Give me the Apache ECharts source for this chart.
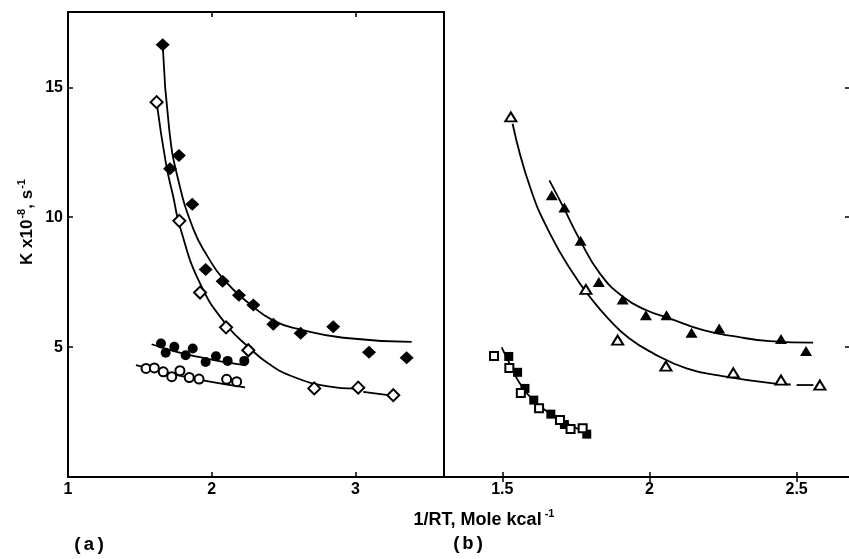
<!DOCTYPE html>
<html><head><meta charset="utf-8">
<script src="https://cdn.jsdelivr.net/npm/echarts@6/dist/echarts.min.js"></script>
<style>html,body{margin:0;padding:0;background:#fff}#c{width:849px;height:559px}</style>
</head><body><div id="c"></div>
<script>
// ---- tick labels ----
const yTicks = [5, 10, 15];
const xTicksA = [1, 2, 3];
const xTicksB = [1.5, 2, 2.5];

// ---- panel (a) ----
const filledDiamonds = [[1.659,16.64],[1.710,11.87],[1.772,12.38],[1.865,10.50],[1.958,7.99],[2.076,7.54],[2.190,7.00],[2.290,6.62],[2.429,5.88],[2.619,5.53],[2.846,5.78],[3.095,4.80],[3.357,4.59]];
const filledDiamondCurve = [[1.659,16.65],[1.705,13.35],[1.768,11.42],[1.872,9.55],[1.965,8.55],[2.081,7.62],[2.267,6.65],[2.430,6.02],[2.614,5.68],[2.916,5.36],[3.392,5.20]];
const openDiamonds = [[1.617,14.43],[1.775,9.86],[1.919,7.10],[2.100,5.76],[2.255,4.88],[2.714,3.41],[3.020,3.44],[3.264,3.15]];
const openDiamondCurve = [[1.617,14.43],[1.682,12.06],[1.733,10.78],[1.779,9.63],[1.919,7.45],[2.104,5.85],[2.267,4.95],[2.400,4.35],[2.568,3.86],[2.800,3.50],[3.000,3.40]];
const openDiamondDash = [[3.055,3.28],[3.229,3.15]];
const filledCircles = [[1.647,5.14],[1.680,4.78],[1.740,5.01],[1.819,4.69],[1.868,4.95],[1.958,4.43],[2.030,4.65],[2.111,4.47],[2.227,4.47]];
const filledCircleLine = [[1.582,5.11],[1.750,4.83],[1.919,4.61],[2.080,4.43],[2.240,4.30]];
const openCircles = [[1.543,4.18],[1.601,4.20],[1.663,4.05],[1.722,3.86],[1.779,4.09],[1.844,3.83],[1.912,3.77],[2.104,3.76],[2.174,3.67]];
const openCircleLine = [[1.473,4.31],[1.700,4.00],[1.919,3.74],[2.232,3.45]];

// ---- panel (b) ----
const openTriangles = [[1.529,13.86],[1.784,7.22],[1.892,5.27],[2.056,4.27],[2.285,4.01],[2.447,3.73],[2.579,3.54]];
const openTriangleCurve = [[1.535,13.60],[1.594,11.17],[1.662,9.37],[1.741,7.83],[1.798,6.93],[1.860,6.10],[1.930,5.35],[2.013,4.76],[2.126,4.18],[2.240,3.90],[2.420,3.60],[2.480,3.56]];
const openTriangleDash = [[2.500,3.54],[2.557,3.54]];
const filledTriangles = [[1.668,10.85],[1.711,10.37],[1.766,9.09],[1.828,7.51],[1.909,6.83],[1.988,6.23],[2.058,6.23],[2.143,5.55],[2.237,5.72],[2.447,5.31],[2.532,4.85]];
const filledTriangleCurve = [[1.660,11.42],[1.707,10.40],[1.764,9.12],[1.832,7.83],[1.911,6.93],[1.990,6.42],[2.070,6.10],[2.183,5.65],[2.296,5.40],[2.409,5.23],[2.556,5.17]];
const openSquares = [[1.472,4.66],[1.524,4.20],[1.563,3.23],[1.625,2.65],[1.696,2.19],[1.732,1.85],[1.773,1.88]];
const filledSquares = [[1.522,4.64],[1.552,4.03],[1.577,3.41],[1.607,2.96],[1.665,2.42],[1.711,2.02],[1.787,1.65]];
const squareCurve = [[1.498,4.99],[1.530,4.25],[1.560,3.60],[1.617,2.83],[1.673,2.38],[1.730,2.00],[1.787,1.70]];

const FONT = 'Liberation Sans';
const lbl = {fontFamily: FONT, fontWeight: 'bold', fontSize: 16, color: '#000'};
const axLine = {show: true, lineStyle: {color: '#000', width: 2}};

function xAx(grid, pos, min, max, ticks, labels) {
  return {
    type: 'value', gridIndex: grid, position: pos, min: min, max: max,
    axisLine: axLine, splitLine: {show: false},
    axisTick: {show: true, inside: true, length: 5, lineStyle: {color: '#000', width: 1.5}, customValues: ticks},
    axisLabel: labels ? Object.assign({show: true, margin: 5, customValues: ticks, formatter: v => String(v)}, lbl) : {show: false}
  };
}

const lineS = (data, xi, yi) => ({type: 'line', data: data, xAxisIndex: xi, yAxisIndex: yi, showSymbol: false, smooth: 0.5, lineStyle: {color: '#000', width: 1.8}, z: 2, silent: true});
const scat = (data, xi, yi, sym, size, filled) => ({type: 'scatter', data: data, xAxisIndex: xi, yAxisIndex: yi, symbol: sym, symbolSize: size,
  itemStyle: filled ? {color: '#000', opacity: 1} : {color: '#fff', borderColor: '#000', borderWidth: 2, opacity: 1}, z: 3});

const chart = echarts.init(document.getElementById('c'));
chart.setOption({
  animation: false,
  backgroundColor: '#fff',
  grid: [
    {left: 68, top: 12, width: 376, height: 465},
    {left: 444, top: 12, width: 405, height: 465}
  ],
  xAxis: [
    xAx(0, 'bottom', 1, 3.617, xTicksA, true),
    xAx(0, 'top', 1, 3.617, xTicksA.slice(1), false),
    xAx(1, 'bottom', 1.302, 2.678, xTicksB, true),
    xAx(1, 'top', 1.302, 2.678, xTicksB, false)
  ],
  yAxis: [
    {type: 'value', gridIndex: 0, position: 'left', min: 0, max: 17.9, axisLine: axLine, splitLine: {show: false},
     axisTick: {show: true, inside: true, length: 5, lineStyle: {color: '#000', width: 1.5}, customValues: yTicks},
     axisLabel: Object.assign({show: true, margin: 5, customValues: yTicks}, lbl)},
    {type: 'value', gridIndex: 1, position: 'left', min: 0, max: 17.9, axisLine: axLine, splitLine: {show: false},
     axisTick: {show: false}, axisLabel: {show: false}},
    {type: 'value', gridIndex: 1, position: 'right', min: 0, max: 17.9, axisLine: {show: false}, splitLine: {show: false},
     axisTick: {show: true, inside: true, length: 4, lineStyle: {color: '#000', width: 1.5}, customValues: yTicks}, axisLabel: {show: false}}
  ],
  graphic: [
    {type: 'text', x: 484, y: 520, style: {text: '1/RT, Mole kcal{s|-1}', fontFamily: FONT, fontWeight: 'bold', fontSize: 18, fill: '#000', textAlign: 'center', textVerticalAlign: 'middle',
      rich: {s: {fontFamily: FONT, fontWeight: 'bold', fontSize: 11, fill: '#000', padding: [0, 0, 12, 3]}}}},
    {type: 'text', x: 27, y: 222, rotation: Math.PI / 2, style: {text: 'K x10{s|-8}, s{s|-1}', fontFamily: FONT, fontWeight: 'bold', fontSize: 17, fill: '#000', textAlign: 'center', textVerticalAlign: 'middle',
      rich: {s: {fontFamily: FONT, fontWeight: 'bold', fontSize: 11, fill: '#000', padding: [0, 0, 11, 1]}}}},
    {type: 'text', x: 89, y: 545, style: {text: '(a)', fontFamily: 'Liberation Mono', fontWeight: 'bold', fontSize: 19, fill: '#000', textAlign: 'center', textVerticalAlign: 'middle'}},
    {type: 'text', x: 468, y: 544, style: {text: '(b)', fontFamily: 'Liberation Mono', fontWeight: 'bold', fontSize: 19, fill: '#000', textAlign: 'center', textVerticalAlign: 'middle'}}
  ],
  series: [
    lineS(filledDiamondCurve, 0, 0),
    lineS(openDiamondCurve, 0, 0),
    lineS(openDiamondDash, 0, 0),
    lineS(filledCircleLine, 0, 0),
    lineS(openCircleLine, 0, 0),
    scat(filledDiamonds, 0, 0, 'diamond', [14, 13], true),
    scat(openDiamonds, 0, 0, 'diamond', [12, 12], false),
    scat(filledCircles, 0, 0, 'circle', 10, true),
    scat(openCircles, 0, 0, 'circle', 9, false),
    lineS(openTriangleCurve, 2, 1),
    lineS(openTriangleDash, 2, 1),
    lineS(filledTriangleCurve, 2, 1),
    lineS(squareCurve, 2, 1),
    scat(openTriangles, 2, 1, 'triangle', [11, 9], false),
    scat(filledTriangles, 2, 1, 'triangle', [12, 10], true),
    scat(filledSquares, 2, 1, 'rect', 9, true),
    scat(openSquares, 2, 1, 'rect', 8, false)
  ]
});
</script></body></html>
